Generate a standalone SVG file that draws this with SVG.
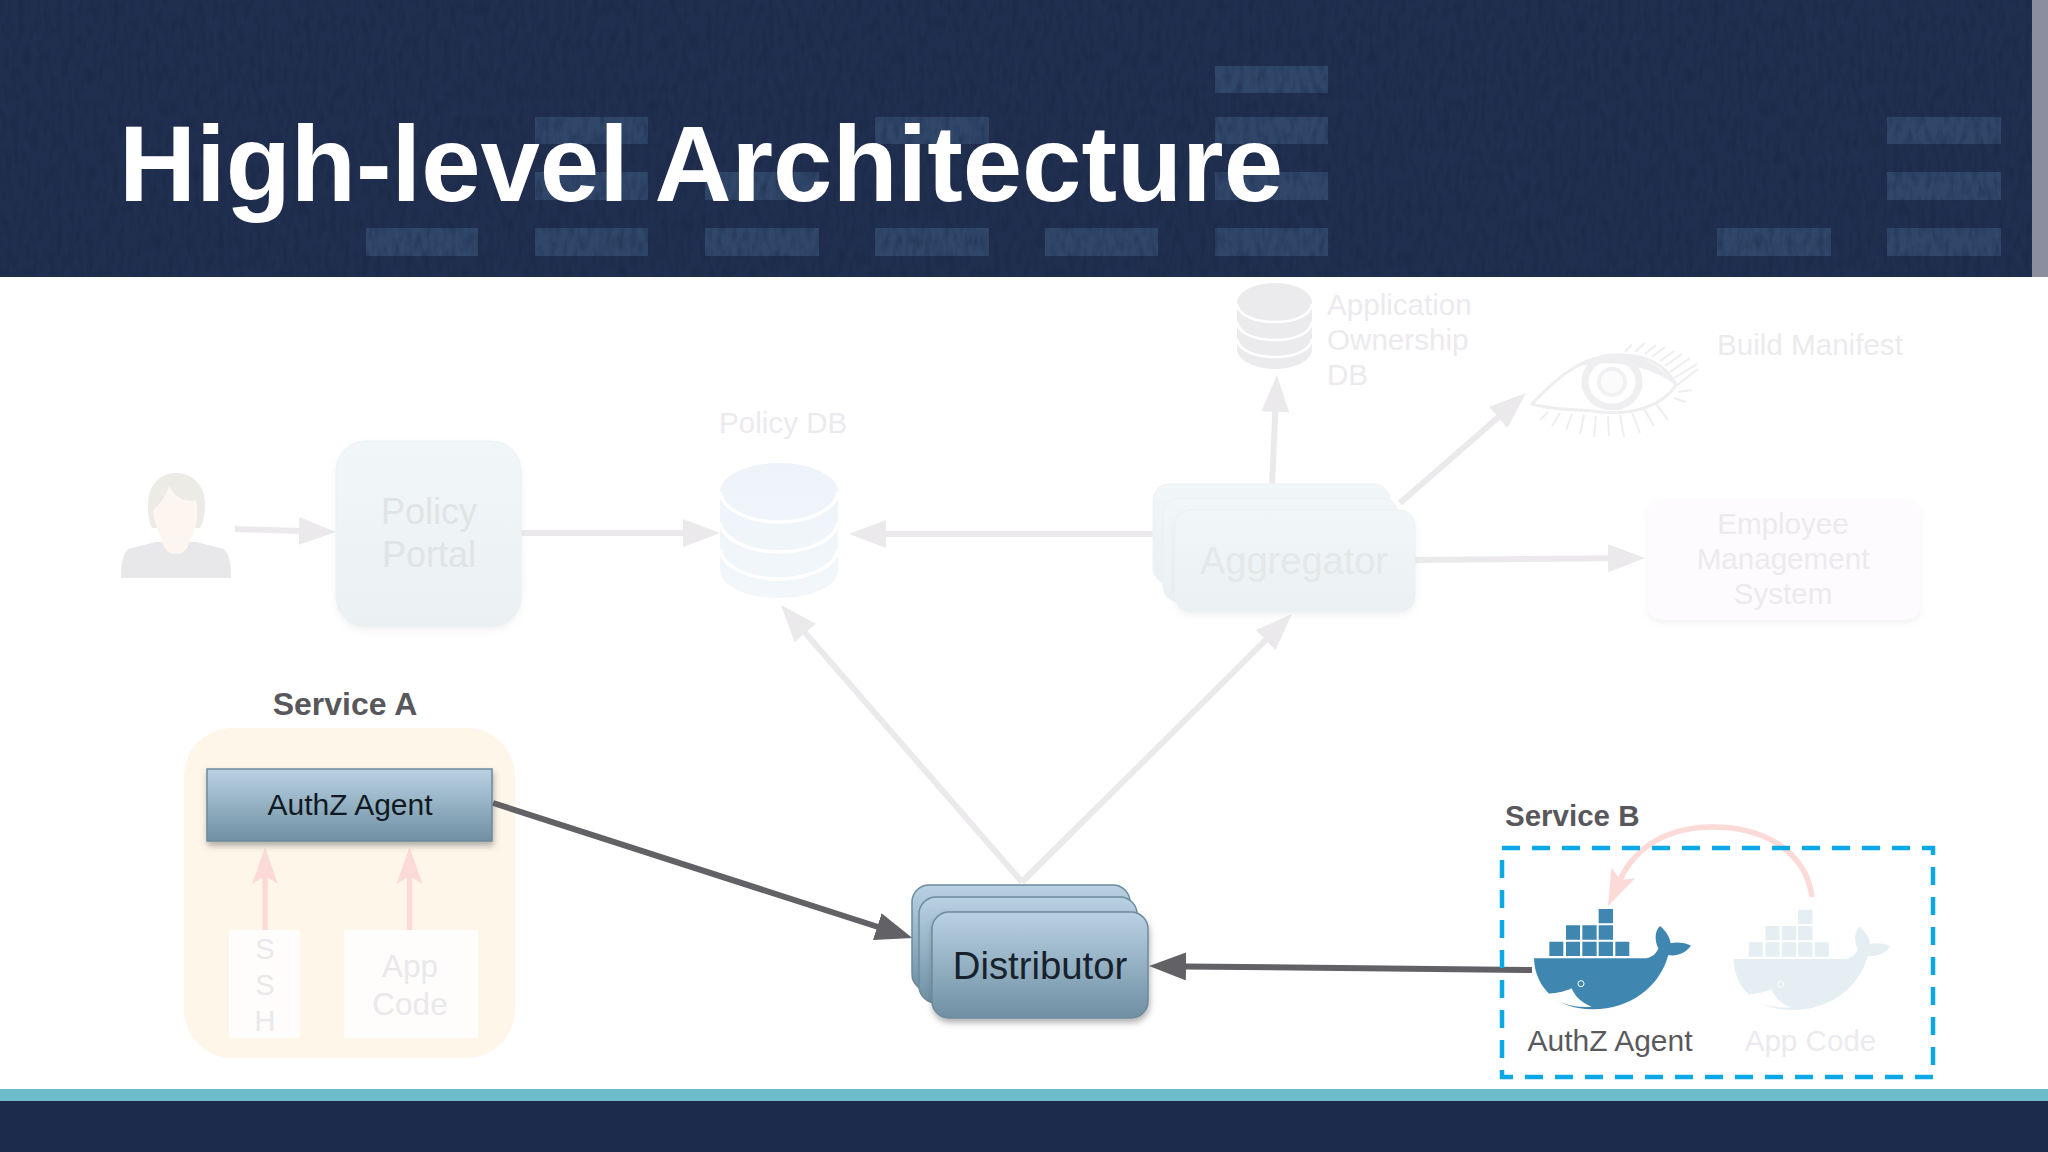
<svg xmlns="http://www.w3.org/2000/svg" xmlns:xlink="http://www.w3.org/1999/xlink" width="2048" height="1152" viewBox="0 0 2048 1152">
<style>
text{font-family:"Liberation Sans",Arial,sans-serif}
.sq{fill:#30476a}
.c{text-anchor:middle}
.f{fill:#eceaee;font-size:29.6px}
.link{fill:none;stroke:#ebe9ec;stroke-width:6}
.dark{fill:none;stroke:#626166;stroke-width:6}
.pink{fill:none;stroke:#fcdad7;stroke-width:5.5}
.blue{fill:url(#bg);stroke:#6d8a9e;stroke-width:1.5}
.pale{fill:url(#pg);stroke:#ecf2f3;stroke-width:1}
.hdr{fill:#202e4f}
.lash{stroke:#eeedf0;stroke-width:2;fill:none}
</style>
<defs>
<linearGradient id="bg" x1="0" y1="0" x2="0" y2="1"><stop offset="0" stop-color="#b9d2e3"/><stop offset="1" stop-color="#6f8fa3"/></linearGradient>
<linearGradient id="pg" x1="0" y1="0" x2="0" y2="1"><stop offset="0" stop-color="#f1f7f8"/><stop offset="1" stop-color="#ebf0f2"/></linearGradient>
<linearGradient id="cyl" x1="0" y1="0" x2="0" y2="1"><stop offset="0" stop-color="#edf3fa"/><stop offset="1" stop-color="#f3f7fa"/></linearGradient>
<filter id="sh" x="-10%" y="-10%" width="120%" height="125%"><feDropShadow dx="1" dy="4" stdDeviation="3" flood-color="#555" flood-opacity=".45"/></filter>
<filter id="shp" x="-10%" y="-10%" width="120%" height="125%"><feDropShadow dx="0" dy="3" stdDeviation="3" flood-color="#ccc" flood-opacity=".25"/></filter>
<filter id="mott" x="0" y="0" width="100%" height="100%" color-interpolation-filters="sRGB"><feTurbulence type="fractalNoise" baseFrequency=".16 .06" numOctaves="2" seed="4"/><feColorMatrix values="0 0 0 0 .09  0 0 0 0 .14  0 0 0 0 .26  .9 0 0 0 -.36"/></filter>
<marker id="hGrey" markerUnits="userSpaceOnUse" markerWidth="37" markerHeight="28" refX="1" refY="14" orient="auto"><path d="M0,0L37,14L0,28Z" fill="#ebe9ec"/></marker>
<marker id="hDark" markerUnits="userSpaceOnUse" markerWidth="37" markerHeight="28" refX="1" refY="14" orient="auto"><path d="M0,0L37,14L0,28Z" fill="#626166"/></marker>
<marker id="hPink" markerUnits="userSpaceOnUse" markerWidth="37" markerHeight="28" refX="8" refY="14" orient="auto"><path d="M0,1L37,14L0,27L8,14Z" fill="#fcdad7"/></marker>
<g id="whale" transform="translate(1480 780) scale(.3333)">
<path d="M208,485h42v43h-42zM258,485h42v43h-42zM307,485h43v43h-43zM356,485h43v43h-43zM406,485h42v43h-42zM258,436h42v43h-42zM307,436h43v43h-43zM356,436h43v43h-43zM356,387h43v43h-43z"/>
<path d="M162,535L498,535C520,532 530,518 535,505C525,485 522,455 540,438C555,450 570,470 572,490C590,485 615,488 633,497C615,520 590,530 565,525C540,620 450,688 340,688C240,690 165,630 162,535Z"/>
<path d="M205,641C235,640 262,632 275,625C285,650 305,668 335,680C285,684 235,672 205,641Z" fill="#fff"/>
<circle cx="303" cy="611" r="9" fill="none" stroke="#fff" stroke-width="3"/>
</g>
</defs>

<rect width="2048" height="1152" fill="#fff"/>

<g id="header">
<rect class="hdr" width="2032" height="277"/>
<rect x="2032" width="16" height="277" fill="#8a8e9e"/>
<path class="sq" d="M366,228h112v28h-112zM535,228h113v28h-113zM705,228h114v28h-114zM875,228h114v28h-114zM1045,228h113v28h-113zM1215,228h113v28h-113zM1717,228h114v28h-114zM1887,228h114v28h-114zM535,172h113v28h-113zM705,172h114v28h-114zM1215,172h113v28h-113zM1887,172h114v28h-114zM535,117h113v27h-113zM875,117h114v27h-114zM1215,117h113v27h-113zM1887,117h114v27h-114zM1215,66h113v27h-113z"/>
<rect width="2032" height="277" filter="url(#mott)"/>
<text x="119" y="201" font-size="106.7" font-weight="700" fill="#fff">High-level Architecture</text>
</g>
<g id="footer">
<rect y="1089" width="2048" height="12" fill="#6cbccb"/>
<rect y="1101" width="2048" height="51" fill="#1c2a4c"/>
</g>

<g id="service-a">
<rect x="184" y="728" width="331" height="330" rx="48" fill="#fff6ea"/>
<text class="c" x="345" y="715" font-size="32" font-weight="700" fill="#58585c">Service A</text>
</g>

<g id="connectors">
<line class="link" x1="235" y1="529" x2="300" y2="531" marker-end="url(#hGrey)"/>
<line class="link" x1="521" y1="533" x2="684" y2="533" marker-end="url(#hGrey)"/>
<line class="link" x1="1153" y1="534" x2="885" y2="534" marker-end="url(#hGrey)"/>
<line class="link" x1="1022" y1="882" x2="804.6" y2="632.2" marker-end="url(#hGrey)"/>
<line class="link" x1="1022" y1="882" x2="1266.4" y2="639.4" marker-end="url(#hGrey)"/>
<line class="link" x1="1272" y1="486" x2="1275.3" y2="411" marker-end="url(#hGrey)"/>
<line class="link" x1="1400" y1="503" x2="1498.9" y2="416.7" marker-end="url(#hGrey)"/>
<line class="link" x1="1415" y1="560" x2="1609" y2="558.3" marker-end="url(#hGrey)"/>
<line class="dark" x1="493" y1="803" x2="878.2" y2="927" marker-end="url(#hDark)"/>
<line class="dark" x1="1532" y1="970" x2="1185" y2="966.4" marker-end="url(#hDark)"/>
<line class="pink" x1="265" y1="930" x2="265" y2="876" marker-end="url(#hPink)"/>
<line class="pink" x1="409.5" y1="930" x2="409.5" y2="876" marker-end="url(#hPink)"/>
<path class="pink" d="M1812,897C1806,852 1765,827 1713,827C1670,827 1636,845 1620,880" marker-end="url(#hPink)"/>
</g>

<g id="user">
<path d="M121,578C121,565 122,555 128,549L156,542L196,542L224,549C230,555 231,565 231,578Z" fill="#e8e7e9"/>
<path d="M148,505C148,485 160,473 176,473C192,473 205,485 205,505C205,515 203,522 200,528L152,528C149,522 148,515 148,505Z" fill="#ecebe6"/>
<path d="M153,510C158,506 164,500 169,486C175,498 186,503 196,500C199,515 196,530 190,540C188,550 183,554 176,554C169,554 164,550 162,540C157,530 154,520 153,510Z" fill="#fdf6f0"/>
</g>

<g id="policy-portal">
<rect x="336" y="441" width="185" height="186" rx="30" class="pale" filter="url(#shp)"/>
<text class="c" x="429" y="524" font-size="36" fill="#e0e4e6">Policy</text>
<text class="c" x="429" y="567" font-size="36" fill="#e0e4e6">Portal</text>
</g>

<g id="policy-db">
<path d="M720,492C720,476 746,463 779,463C812,463 838,476 838,492V570C838,586 812,598 779,598C746,598 720,586 720,570Z" fill="url(#cyl)"/>
<path d="M720,492C722,510 750,522 779,522C808,522 836,510 838,492M720,522C722,540 750,552 779,552C808,552 836,540 838,522M720,549C722,567 750,579 779,579C808,579 836,567 838,549" fill="none" stroke="#fff" stroke-width="3.5"/>
<text x="719" y="433" font-size="29.6" fill="#eceaee">Policy DB</text>
</g>

<g id="app-db">
<path d="M1237,303C1237,292 1254,283 1275,283C1296,283 1312,292 1312,303V349C1312,360 1296,369 1275,369C1254,369 1237,360 1237,349Z" fill="#ebebee"/>
<path d="M1237,304C1239,317 1258,322 1275,322C1292,322 1310,317 1312,304M1237,322C1239,335 1258,340 1275,340C1292,340 1310,335 1312,322M1237,339C1239,352 1258,357 1275,357C1292,357 1310,352 1312,339" fill="none" stroke="#fff" stroke-width="2.5"/>
<text class="f" x="1327" y="315">Application</text>
<text class="f" x="1327" y="350">Ownership</text>
<text class="f" x="1327" y="385">DB</text>
</g>

<g id="build-manifest">
<path d="M1532,404C1550,385 1575,360 1606,356C1640,352 1664,362 1676,385C1664,404 1635,416 1600,412C1575,409 1550,410 1532,404Z" fill="#fff" stroke="#eeedf0" stroke-width="3"/>
<path d="M1575,367C1600,350 1645,345 1676,385C1650,365 1610,358 1575,367Z" fill="#eeedf0"/>
<ellipse cx="1612" cy="382" rx="27" ry="25" fill="none" stroke="#efeef1" stroke-width="7"/>
<circle cx="1612" cy="382" r="13" fill="#fbfbfc" stroke="#f1f0f3" stroke-width="4"/>
<path class="lash" d="M1625,352L1632,344M1635,352L1645,343M1645,354L1656,345M1652,357L1665,347M1660,361L1674,351M1665,366L1682,354M1670,372L1690,358M1674,378L1697,364M1676,386L1698,369M1678,392L1692,390M1674,398L1686,402M1548,412L1540,420M1560,413L1552,426M1572,414L1566,430M1584,415L1580,434M1596,416L1594,437M1608,416L1609,436M1620,415L1624,437M1632,413L1640,433M1644,409L1654,426M1656,404L1668,420"/>
<text class="f" x="1717" y="355">Build Manifest</text>
</g>

<g id="aggregator">
<rect x="1153" y="484" width="237" height="100" rx="16" class="pale"/>
<rect x="1163" y="498" width="235" height="104" rx="16" class="pale"/>
<rect x="1175" y="510" width="240" height="102" rx="16" class="pale" filter="url(#shp)"/>
<text class="c" x="1294" y="574" font-size="38" fill="#e4e8e9">Aggregator</text>
</g>

<g id="employee-system">
<rect x="1648" y="500" width="272" height="120" rx="14" fill="#fdfbfd" filter="url(#shp)"/>
<text class="c f" x="1783" y="534">Employee</text>
<text class="c f" x="1783" y="569">Management</text>
<text class="c f" x="1783" y="604">System</text>
</g>

<g id="ssh">
<rect x="229" y="930" width="71" height="108" fill="#fffdfb"/>
<text class="c" x="265" y="959" font-size="29" fill="#e9e8ea">S</text>
<text class="c" x="265" y="995" font-size="29" fill="#e9e8ea">S</text>
<text class="c" x="265" y="1031" font-size="29" fill="#e9e8ea">H</text>
</g>
<g id="app-code-a">
<rect x="344" y="930" width="134" height="108" fill="#fffdfb"/>
<text class="c" x="410" y="977" font-size="31.5" fill="#e9e8ea">App</text>
<text class="c" x="410" y="1015" font-size="31.5" fill="#e9e8ea">Code</text>
</g>
<g id="authz-agent-a">
<rect x="207" y="769" width="285" height="72" class="blue" filter="url(#sh)"/>
<text class="c" x="350" y="815" font-size="30" fill="#111a22">AuthZ Agent</text>
</g>

<g id="distributor">
<rect x="912" y="885" width="218" height="106" rx="17" class="blue"/>
<rect x="919" y="897" width="218" height="106" rx="17" class="blue"/>
<rect x="932" y="912" width="216" height="106" rx="17" class="blue" filter="url(#sh)"/>
<text class="c" x="1040" y="979" font-size="38.3" fill="#18222c">Distributor</text>
</g>

<g id="service-b">
<rect x="1502" y="848" width="431" height="229" fill="none" stroke="#0aa9e6" stroke-width="4.5" stroke-dasharray="18 12"/>
<text x="1505" y="826" font-size="29.5" font-weight="700" fill="#58585c">Service B</text>
</g>
<g id="authz-agent-b">
<use xlink:href="#whale" href="#whale" fill="#3f87b0"/>
<text class="c" x="1610" y="1051" font-size="30" fill="#5a5a5e">AuthZ Agent</text>
</g>
<g id="app-code-b">
<use xlink:href="#whale" href="#whale" transform="translate(199.5 .7)" fill="#e5eef3"/>
<text class="c" x="1810.5" y="1051" font-size="29.6" fill="#eceaee">App Code</text>
</g>
</svg>
